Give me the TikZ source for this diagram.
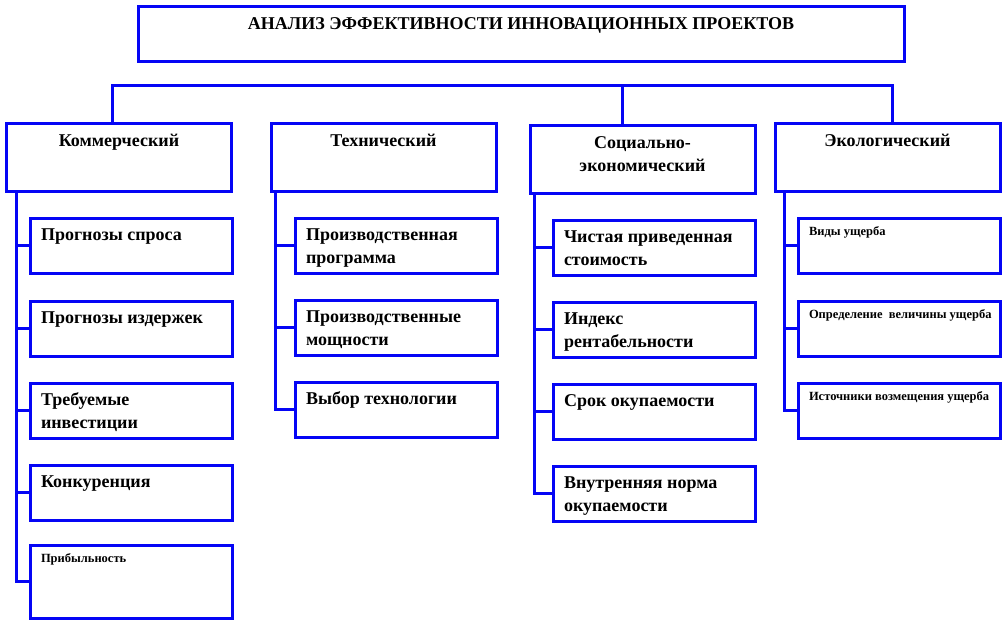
\documentclass[tikz,border=0pt]{standalone}
\usepackage{fontspec}
\setmainfont{Liberation Serif}
\usepackage{tikz}
\usetikzlibrary{positioning}
\definecolor{lineblue}{HTML}{0505F5}

\newcommand{\toptext}[3]{\parbox[c][#2][t]{#1}{#3}}
\newcommand{\headtext}[1]{\toptext{213pt}{55pt}{\centering\strut #1}}
\newcommand{\celltext}[1]{\toptext{180pt}{43pt}{\raggedright\strut #1}}

\tikzset{
  frame/.style={draw=lineblue, line width=3pt, fill=white, anchor=north west, inner xsep=6pt, inner ysep=6pt},
  cell/.style={frame, inner xsep=11pt},
  link/.style={draw=lineblue, line width=3pt},
  bigfont/.style={font=\fontsize{18}{23.5}\selectfont\bfseries},
  smallfont/.style={font=\fontsize{12.5}{17}\selectfont\bfseries},
}

\begin{document}
\begin{tikzpicture}[x=1pt, y=-1pt]
\useasboundingbox (0,0) rectangle (1004,623);

\node[frame, bigfont] (title) at (136.5,5.5)
  {\toptext{754pt}{43pt}{\centering\strut АНАЛИЗ ЭФФЕКТИВНОСТИ ИННОВАЦИОННЫХ ПРОЕКТОВ}};

\node[frame, bigfont] (kom) at (5,122.5) {\headtext{Коммерческий}};
\node[frame, bigfont] (teh) at (269.5,122.5) {\headtext{Технический}};
\node[frame, bigfont] (soc) at (528.5,124.5) {\headtext{Социально-\\экономический}};
\node[frame, bigfont] (eko) at (773.5,122.5) {\headtext{Экологический}};

\node[cell, bigfont] (k1) at (28.5,216.5) {\celltext{Прогнозы спроса}};
\node[cell, bigfont] (k2) at (28.5,299.5) {\celltext{Прогнозы издержек}};
\node[cell, bigfont] (k3) at (28.5,381.5) {\celltext{Требуемые\\инвестиции}};
\node[cell, bigfont] (k4) at (28.5,463.5) {\celltext{Конкуренция}};
\node[cell, smallfont] (k5) at (28.5,543.5) {\toptext{180pt}{61pt}{\raggedright\strut Прибыльность}};

\node[cell, bigfont] (t1) at (293.5,216.5) {\celltext{Производственная\\программа}};
\node[cell, bigfont] (t2) at (293.5,298.5) {\celltext{Производственные\\мощности}};
\node[cell, bigfont] (t3) at (293.5,380.5) {\celltext{Выбор технологии}};

\node[cell, bigfont] (s1) at (551.5,218.5) {\celltext{Чистая приведенная\\стоимость}};
\node[cell, bigfont] (s2) at (551.5,300.5) {\celltext{Индекс\\рентабельности}};
\node[cell, bigfont] (s3) at (551.5,382.5) {\celltext{Срок окупаемости}};
\node[cell, bigfont] (s4) at (551.5,464.5) {\celltext{Внутренняя норма\\окупаемости}};

\node[cell, smallfont] (e1) at (796.5,216.5) {\celltext{Виды ущерба}};
\node[cell, smallfont] (e2) at (796.5,299.5) {\celltext{\mbox{Определение\ \ величины ущерба}}};
\node[cell, smallfont] (e3) at (796.5,381.5) {\celltext{\mbox{Источники возмещения ущерба}}};

\coordinate (busL) at (112,86);
\coordinate (busS) at (622,86);
\coordinate (busR) at (892,86);
\draw[link] (kom.north -| busL) -- (busL) -- (busR) -- (eko.north -| busR);
\draw[link] (busS) -- (soc.north -| busS);

\coordinate (sk) at (16,0);
\coordinate (st) at (275,0);
\coordinate (ss) at (534,0);
\coordinate (se) at (784,0);
\draw[link] (kom.south -| sk) |- (k5.west);
\foreach \c in {k1,k2,k3,k4} \draw[link] (sk |- \c.west) -- (\c.west);
\draw[link] (teh.south -| st) |- (t3.west);
\foreach \c in {t1,t2} \draw[link] (st |- \c.west) -- (\c.west);
\draw[link] (soc.south -| ss) |- (s4.west);
\foreach \c in {s1,s2,s3} \draw[link] (ss |- \c.west) -- (\c.west);
\draw[link] (eko.south -| se) |- (e3.west);
\foreach \c in {e1,e2} \draw[link] (se |- \c.west) -- (\c.west);
\end{tikzpicture}
\end{document}
